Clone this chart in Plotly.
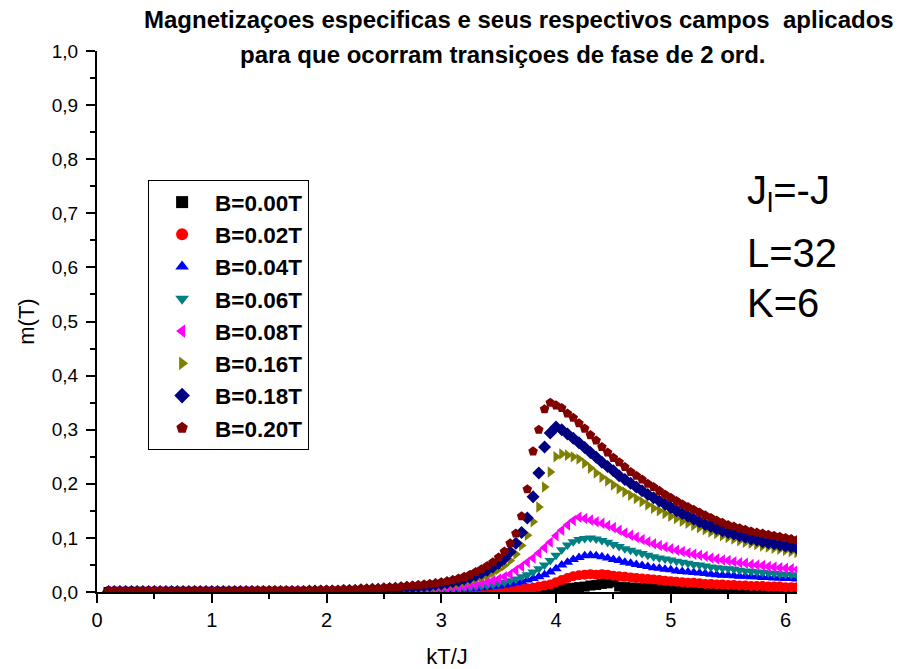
import plotly.graph_objects as go

# Temperature grid kT/J
T = [
    0.10, 0.15, 0.20, 0.25, 0.30, 0.35, 0.40, 0.45, 0.50, 0.55,
    0.60, 0.65, 0.70, 0.75, 0.80, 0.85, 0.90, 0.95, 1.00, 1.05,
    1.10, 1.15, 1.20, 1.25, 1.30, 1.35, 1.40, 1.45, 1.50, 1.55,
    1.60, 1.65, 1.70, 1.75, 1.80, 1.85, 1.90, 1.95, 2.00, 2.05,
    2.10, 2.15, 2.20, 2.25, 2.30, 2.35, 2.40, 2.45, 2.50, 2.55,
    2.60, 2.65, 2.70, 2.75, 2.80, 2.85, 2.90, 2.95, 3.00, 3.05,
    3.10, 3.15, 3.20, 3.25, 3.30, 3.35, 3.40, 3.45, 3.50, 3.55,
    3.60, 3.65, 3.70, 3.75, 3.80, 3.85, 3.90, 3.95, 4.00, 4.05,
    4.10, 4.15, 4.20, 4.25, 4.30, 4.35, 4.40, 4.45, 4.50, 4.55,
    4.60, 4.65, 4.70, 4.75, 4.80, 4.85, 4.90, 4.95, 5.00, 5.05,
    5.10, 5.15, 5.20, 5.25, 5.30, 5.35, 5.40, 5.45, 5.50, 5.55,
    5.60, 5.65, 5.70, 5.75, 5.80, 5.85, 5.90, 5.95, 6.00, 6.05,
    6.10,
]

# Magnetization m(T) for each applied field
m_000 = [
    .000, .000, .000, .000, .000, .000, .000, .000, .000, .000,
    .000, .000, .000, .000, .000, .000, .000, .000, .000, .000,
    .000, .000, .000, .000, .000, .000, .000, .000, .000, .000,
    .000, .000, .000, .000, .000, .000, .000, .000, .000, .000,
    .000, .000, .000, .000, .000, .000, .000, .000, .000, .000,
    .000, .000, .000, .000, .000, .000, .000, .000, .000, .000,
    .000, .000, .000, .000, .000, .000, .000, .000, .000, .000,
    .000, .001, .001, .001, .002, .002, .003, .004, .005, .006,
    .007, .008, .009, .010, .012, .013, .015, .016, .018, .010,
    .009, .008, .008, .007, .007, .006, .006, .006, .005, .005,
    .005, .005, .004, .004, .004, .004, .004, .003, .003, .003,
    .003, .003, .003, .003, .003, .002, .002, .002, .002, .002,
    .002,
]
m_002 = [
    .000, .000, .000, .000, .000, .000, .000, .000, .000, .000,
    .000, .000, .000, .000, .000, .000, .000, .000, .000, .000,
    .000, .000, .000, .000, .000, .000, .000, .000, .000, .000,
    .000, .000, .000, .000, .000, .000, .000, .000, .000, .000,
    .000, .000, .000, .000, .000, .000, .000, .000, .000, .000,
    .000, .000, .000, .001, .001, .001, .001, .001, .001, .001,
    .001, .002, .002, .002, .002, .003, .003, .003, .004, .004,
    .005, .005, .006, .007, .008, .010, .012, .014, .018, .022,
    .026, .029, .031, .032, .033, .032, .033, .032, .030, .029,
    .028, .027, .026, .025, .024, .023, .022, .021, .020, .019,
    .018, .017, .017, .016, .015, .015, .014, .014, .013, .013,
    .012, .012, .011, .011, .011, .010, .010, .010, .009, .009,
    .009,
]
m_004 = [
    .000, .000, .000, .000, .000, .000, .000, .000, .000, .000,
    .000, .000, .000, .000, .000, .000, .000, .000, .000, .000,
    .000, .000, .000, .000, .000, .000, .000, .000, .000, .000,
    .000, .000, .000, .000, .000, .000, .000, .000, .000, .000,
    .000, .000, .000, .000, .001, .001, .001, .001, .001, .001,
    .001, .001, .002, .002, .002, .002, .003, .003, .003, .004,
    .004, .005, .005, .006, .007, .008, .009, .010, .011, .013,
    .015, .017, .019, .022, .025, .028, .032, .037, .043, .050,
    .055, .060, .064, .067, .068, .067, .065, .063, .060, .058,
    .055, .053, .051, .049, .047, .045, .044, .042, .041, .039,
    .038, .037, .036, .035, .034, .033, .032, .031, .031, .030,
    .029, .029, .028, .028, .027, .027, .026, .026, .025, .025,
    .024,
]
m_006 = [
    .001, .001, .001, .001, .001, .001, .001, .001, .001, .001,
    .001, .001, .001, .001, .001, .001, .001, .001, .001, .001,
    .001, .001, .001, .001, .001, .001, .001, .001, .001, .001,
    .001, .001, .001, .001, .001, .001, .001, .001, .001, .001,
    .001, .001, .001, .001, .001, .001, .001, .002, .002, .002,
    .002, .002, .003, .003, .003, .004, .004, .004, .005, .005,
    .006, .007, .008, .009, .010, .011, .012, .014, .016, .018,
    .021, .024, .028, .032, .037, .043, .050, .058, .068, .078,
    .087, .093, .097, .099, .100, .098, .095, .092, .088, .084,
    .080, .077, .074, .071, .068, .065, .063, .061, .059, .057,
    .055, .053, .051, .050, .048, .046, .045, .044, .043, .042,
    .040, .039, .038, .037, .036, .035, .034, .033, .033, .032,
    .031,
]
m_008 = [
    .001, .001, .001, .001, .001, .001, .001, .001, .001, .001,
    .001, .001, .001, .001, .001, .001, .001, .001, .001, .001,
    .001, .001, .001, .001, .001, .001, .001, .001, .001, .001,
    .001, .001, .001, .001, .001, .001, .001, .001, .001, .001,
    .001, .001, .001, .001, .002, .002, .002, .002, .003, .003,
    .003, .004, .004, .004, .005, .005, .006, .006, .007, .008,
    .009, .010, .011, .012, .014, .016, .018, .021, .024, .028,
    .033, .040, .047, .055, .063, .072, .082, .092, .104, .114,
    .124, .132, .138, .136, .133, .130, .127, .123, .119, .114,
    .109, .105, .101, .097, .093, .089, .086, .083, .080, .077,
    .075, .072, .070, .068, .066, .063, .061, .059, .058, .056,
    .054, .053, .051, .050, .049, .047, .046, .045, .044, .043,
    .042,
]
m_016 = [
    .001, .001, .001, .001, .001, .001, .001, .001, .001, .001,
    .001, .001, .001, .001, .001, .001, .001, .001, .001, .001,
    .001, .001, .001, .001, .001, .001, .001, .001, .001, .001,
    .001, .001, .001, .001, .001, .001, .001, .001, .001, .001,
    .001, .002, .002, .002, .002, .003, .003, .003, .004, .004,
    .005, .005, .006, .007, .007, .008, .009, .010, .011, .013,
    .014, .016, .018, .021, .024, .027, .031, .036, .042, .049,
    .058, .070, .086, .105, .130, .157, .194, .222, .250, .255,
    .253, .250, .246, .238, .229, .220, .212, .205, .198, .191,
    .185, .179, .173, .167, .161, .155, .150, .145, .140, .136,
    .131, .127, .123, .119, .115, .111, .108, .104, .101, .098,
    .095, .092, .090, .088, .085, .083, .081, .079, .077, .075,
    .073,
]
m_018 = [
    .001, .001, .001, .001, .001, .001, .001, .001, .001, .001,
    .001, .001, .001, .001, .001, .001, .001, .001, .001, .001,
    .001, .001, .001, .001, .001, .001, .001, .001, .001, .001,
    .001, .001, .001, .001, .001, .002, .002, .002, .002, .002,
    .002, .003, .003, .003, .004, .004, .005, .005, .006, .006,
    .007, .008, .009, .009, .010, .011, .012, .014, .015, .017,
    .019, .021, .024, .027, .031, .035, .040, .046, .053, .062,
    .074, .090, .110, .137, .176, .220, .268, .294, .305, .300,
    .292, .284, .276, .267, .258, .249, .240, .232, .224, .215,
    .208, .201, .194, .187, .180, .174, .168, .162, .156, .150,
    .145, .140, .135, .130, .125, .121, .117, .113, .110, .107,
    .104, .101, .098, .096, .093, .091, .089, .087, .085, .083,
    .081,
]
m_020 = [
    .002, .002, .002, .002, .002, .002, .002, .002, .002, .002,
    .002, .002, .002, .002, .002, .002, .002, .002, .002, .002,
    .002, .002, .002, .002, .002, .003, .003, .003, .003, .003,
    .003, .003, .003, .003, .003, .003, .003, .004, .004, .004,
    .004, .005, .005, .005, .006, .006, .007, .007, .008, .009,
    .009, .010, .011, .012, .013, .014, .015, .016, .018, .020,
    .022, .025, .028, .032, .037, .042, .048, .055, .064, .075,
    .090, .108, .140, .190, .260, .300, .338, .350, .345, .340,
    .330, .322, .312, .302, .290, .280, .268, .258, .248, .240,
    .231, .222, .215, .208, .200, .194, .187, .180, .174, .168,
    .162, .157, .152, .147, .142, .137, .132, .128, .124, .121,
    .118, .115, .112, .110, .108, .106, .104, .102, .100, .098,
    .096,
]

labels = ["B=0.00T", "B=0.02T", "B=0.04T", "B=0.06T",
          "B=0.08T", "B=0.16T", "B=0.18T", "B=0.20T"]
series = [m_000, m_002, m_004, m_006, m_008, m_016, m_018, m_020]
colors = ["#000000", "#FF0000", "#0000FF", "#008080",
          "#FF00FF", "#808000", "#000080", "#800000"]
symbols = ["square", "circle", "triangle-up", "triangle-down",
           "triangle-left", "triangle-right", "diamond", "pentagon"]

fig = go.Figure()
for name, m, c, s in zip(labels, series, colors, symbols):
    fig.add_trace(go.Scatter(
        x=T, y=m, mode="markers", name=name, legendgroup=name,
        marker=dict(symbol=s, color=c, size=10, line=dict(width=0)),
    ))

sans = "Liberation Sans, Arial, sans-serif"

fig.update_layout(
    width=902, height=669,
    margin=dict(l=97, r=105, t=51, b=77),
    paper_bgcolor="white", plot_bgcolor="white",
    separators=",.",
    showlegend=True,
    legend=dict(
        x=0.073, y=0.7616, xanchor="left", yanchor="top",
        bordercolor="black", borderwidth=1, bgcolor="white",
        font=dict(family=sans, size=22.5, color="black", weight="bold"),
        tracegroupgap=0, itemwidth=56, itemsizing="constant",
    ),
    xaxis=dict(
        range=[0, 6.1], dtick=1, tick0=0, tickformat="d", automargin=False,
        showline=True, linecolor="black", linewidth=2,
        ticks="outside", ticklen=9, tickwidth=2, tickcolor="black",
        ticklabelstandoff=0,
        showgrid=False, zeroline=False,
        tickfont=dict(family=sans, size=20, color="black"),
        minor=dict(dtick=0.5, ticks="outside", ticklen=5, tickwidth=2,
                   tickcolor="black", showgrid=False),
        title=dict(text="kT/J", font=dict(family=sans, size=22, color="black"),
                   standoff=27),
    ),
    yaxis=dict(
        range=[0, 1.0], dtick=0.1, tick0=0, tickformat=".1f", automargin=False,
        showline=True, linecolor="black", linewidth=2,
        ticks="outside", ticklen=9, tickwidth=2, tickcolor="black",
        ticklabelstandoff=4,
        showgrid=False, zeroline=False,
        tickfont=dict(family=sans, size=19, color="black"),
        minor=dict(dtick=0.05, ticks="outside", ticklen=5, tickwidth=2,
                   tickcolor="black", showgrid=False),
        title=dict(text="m(T)", font=dict(family=sans, size=22, color="black"),
                   standoff=11),
    ),
)

title_font = dict(family="Liberation Sans Narrow, Arial Narrow, sans-serif",
                  size=24, color="black", weight="bold")
fig.add_annotation(text="Magnetizaçoes especificas e seus respectivos campos  aplicados",
                   xref="paper", yref="paper", x=(519 - 97) / 700, y=(592 - 20) / 541,
                   xanchor="center", yanchor="middle", showarrow=False, font=title_font)
fig.add_annotation(text="para que ocorram transiçoes de fase de 2 ord.",
                   xref="paper", yref="paper", x=(503 - 97) / 700, y=(592 - 55) / 541,
                   xanchor="center", yanchor="middle", showarrow=False, font=title_font)

param_font = dict(family=sans, size=40, color="black")
for txt, yp in [("J<sub>l</sub>=-J", (592 - 193) / 541),
                ("L=32", (592 - 253) / 541),
                ("K=6", (592 - 303) / 541)]:
    fig.add_annotation(text=txt, xref="paper", yref="paper",
                       x=(745 - 97) / 700, y=yp, xanchor="left", yanchor="middle",
                       showarrow=False, font=param_font)

fig.write_html("out.html")
